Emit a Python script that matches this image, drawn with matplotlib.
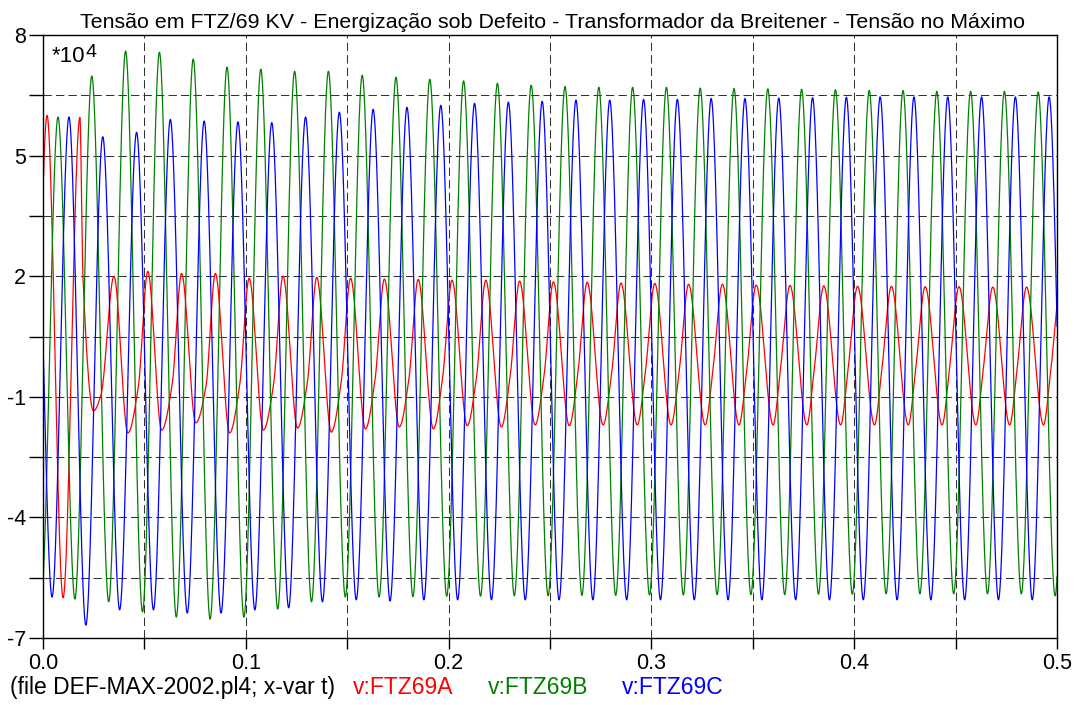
import numpy as np
import matplotlib
matplotlib.use("Agg")
import matplotlib.pyplot as plt

plt.rcParams['font.family'] = ['Liberation Sans', 'DejaVu Sans']

CYCLE = 1.0 / 60.0

# phase B (green): peak values and the trough that follows each peak, x10^4 V
green_t0 = 0.0074
green_pre = [6.0, -6.0]
green_peaks = [5.96, 6.98, 7.6, 7.57, 7.4, 7.2, 7.15, 7.1, 7.1, 7.0,
               6.95, 6.9, 6.86, 6.8, 6.75, 6.72, 6.7, 6.7, 6.7, 6.68,
               6.67, 6.66, 6.65, 6.64, 6.62, 6.62, 6.6, 6.6, 6.6, 6.58, 6.58]
green_troughs = [-6.03, -6.1, -6.35, -6.48, -6.53, -6.48, -6.28, -6.1, -5.98, -5.98,
                 -5.97, -5.96, -5.96, -5.95, -5.95, -5.94, -5.94, -5.93, -5.93, -5.92,
                 -5.92, -5.92, -5.91, -5.91, -5.9, -5.9, -5.9, -5.9, -5.9, -5.95, -5.9]

# phase C (blue)
blue_t0 = 0.0128
blue_pre = [5.5, -5.98]
blue_peaks = [5.96, 5.47, 5.58, 5.9, 5.86, 5.84, 5.82, 5.96, 6.08, 6.15,
              6.2, 6.25, 6.3, 6.33, 6.35, 6.38, 6.38, 6.4, 6.4, 6.42,
              6.42, 6.43, 6.44, 6.45, 6.46, 6.46, 6.46, 6.46, 6.46, 6.46, 6.46]
blue_troughs = [-6.68, -6.3, -6.3, -6.38, -6.38, -6.3, -6.25, -6.1, -6.05, -6.08,
                -6.05, -6.05, -6.05, -6.05, -6.05, -6.05, -6.05, -6.05, -6.05, -6.05,
                -6.05, -6.05, -6.05, -6.05, -6.05, -6.05, -6.05, -6.05, -6.05, -6.05, -6.05]

# phase A (red): energisation transient, then the faulted-phase wave
red_start_t = [-0.0060, 0.0020, 0.0099, 0.0182, 0.0197, 0.0249, 0.0286]
red_start_v = [-6.0, 6.0, -6.0, 5.95, 2.0, -1.35, -0.95]
red_t0 = 0.035
red_peaks = [2.0, 2.12, 2.07, 2.07, 1.95, 2.0, 1.97, 1.95, 1.93, 1.92,
             1.9, 1.9, 1.88, 1.86, 1.85, 1.83, 1.82, 1.8, 1.8, 1.78,
             1.77, 1.76, 1.75, 1.75, 1.74, 1.74, 1.73, 1.73, 1.73]
red_troughs = [-1.9, -1.83, -1.65, -1.9, -1.83, -1.78, -1.88, -1.8, -1.75, -1.8,
               -1.72, -1.75, -1.7, -1.72, -1.7, -1.7, -1.7, -1.7, -1.7, -1.7,
               -1.7, -1.7, -1.7, -1.7, -1.7, -1.7, -1.7, -1.7, -1.7]
red_trough_lag = [0.41, 0.41, 0.42, 0.42, 0.42, 0.43, 0.43, 0.44, 0.44, 0.45,
                  0.45, 0.46, 0.46, 0.47, 0.47, 0.48, 0.48, 0.49, 0.49, 0.5,
                  0.5, 0.5, 0.5, 0.5, 0.5, 0.5, 0.5, 0.5, 0.5]
red_knees = [-0.75, -0.7, -0.75, -0.7, -0.7, -0.65, -0.65, -0.6, -0.6, -0.55,
             -0.55, -0.5, -0.5, -0.45, -0.45, -0.4, -0.4, -0.35, -0.35, -0.3,
             -0.3, -0.3, -0.3, -0.3, -0.3, -0.3, -0.3, -0.3, -0.3]

y_labelled = [8, 5, 2, -1, -4, -7]
title = "Tensão em FTZ/69 KV - Energização sob Defeito - Transformador da Breitener - Tensão no Máximo"


def pchip(x, y, xq):
    x = np.asarray(x, float)
    y = np.asarray(y, float)
    h = np.diff(x)
    d = np.diff(y) / h
    m = np.zeros_like(y)
    for i in range(1, len(y) - 1):
        if d[i - 1] * d[i] > 0:
            w1 = 2 * h[i] + h[i - 1]
            w2 = h[i] + 2 * h[i - 1]
            m[i] = (w1 + w2) / (w1 / d[i - 1] + w2 / d[i])
    idx = np.clip(np.searchsorted(x, xq) - 1, 0, len(x) - 2)
    s = (xq - x[idx]) / h[idx]
    h00 = 2 * s**3 - 3 * s**2 + 1
    h10 = s**3 - 2 * s**2 + s
    h01 = -2 * s**3 + 3 * s**2
    h11 = s**3 - s**2
    return h00 * y[idx] + h10 * h[idx] * m[idx] + h01 * y[idx + 1] + h11 * h[idx] * m[idx + 1]


def regular_knots(t0, pre, peaks, troughs):
    t = [t0 - CYCLE, t0 - CYCLE / 2]
    v = list(pre)
    for k, (p, q) in enumerate(zip(peaks, troughs)):
        t += [t0 + k * CYCLE, t0 + (k + 0.5) * CYCLE]
        v += [p, q]
    return t, v


def red_knots():
    t = list(red_start_t)
    v = list(red_start_v)
    for k in range(len(red_troughs)):
        tp = red_t0 + k * CYCLE
        t += [tp, tp + red_trough_lag[k] * CYCLE, tp + 0.72 * CYCLE]
        v += [red_peaks[k], red_troughs[k], red_knees[k]]
    t.append(red_t0 + len(red_troughs) * CYCLE)
    v.append(red_peaks[-1])
    return t, v


tt = np.linspace(-0.002, 0.502, 7000)

fig = plt.figure(figsize=(10.8, 7.05), dpi=100)
ax = fig.add_axes([43 / 1080, 1 - 638 / 705, 1014 / 1080, 603 / 705])

rt, rv = red_knots()
gt, gv = regular_knots(green_t0, green_pre, green_peaks, green_troughs)
bt, bv = regular_knots(blue_t0, blue_pre, blue_peaks, blue_troughs)
ax.plot(tt, pchip(rt, rv, tt), color='#ff0000', lw=0.9)
ax.plot(tt, pchip(gt, gv, tt), color='#008000', lw=0.9)
ax.plot(tt, pchip(bt, bv, tt), color='#0000ff', lw=0.9)

xt = np.arange(0, 0.501, 0.05)
yt = np.arange(-7, 8.01, 1.5)
ax.set_xlim(0, 0.5)
ax.set_ylim(-7, 8)
ax.set_xticks(xt)
ax.set_xticklabels([f"{v:.1f}" if i % 2 == 0 else "" for i, v in enumerate(xt)])
ax.set_yticks(yt)
ax.set_yticklabels([f"{v:g}" if any(abs(v - q) < 1e-9 for q in y_labelled) else "" for v in yt])
ax.tick_params(direction='out', length=8, width=1, labelsize=15.5, pad=3, colors='black')
ax.tick_params(axis='y', length=10, pad=2)
ax.grid(True, color='#333333', lw=0.75, linestyle=(0, (8, 4)))
for sp in ax.spines.values():
    sp.set_linewidth(1.0)

fig.text(552 / 1080, 1 - 28 / 705, title, ha='center', va='baseline', fontsize=15.4)
fig.text(52 / 1080, 1 - 62 / 705, "*10", ha='left', va='baseline', fontsize=16)
fig.text(85 / 1080, 1 - 57 / 705, "4", ha='left', va='baseline', fontsize=14)

fig.text(10 / 1080, 1 - 694 / 705, "(file DEF-MAX-2002.pl4; x-var t)", ha='left', va='baseline', fontsize=16.5)
fig.text(353 / 1080, 1 - 694 / 705, "v:FTZ69A", color='#ff0000', ha='left', va='baseline', fontsize=16.5)
fig.text(488 / 1080, 1 - 694 / 705, "v:FTZ69B", color='#008000', ha='left', va='baseline', fontsize=16.5)
fig.text(622 / 1080, 1 - 694 / 705, "v:FTZ69C", color='#0000ff', ha='left', va='baseline', fontsize=16.5)

fig.savefig("out.png", dpi=100)
